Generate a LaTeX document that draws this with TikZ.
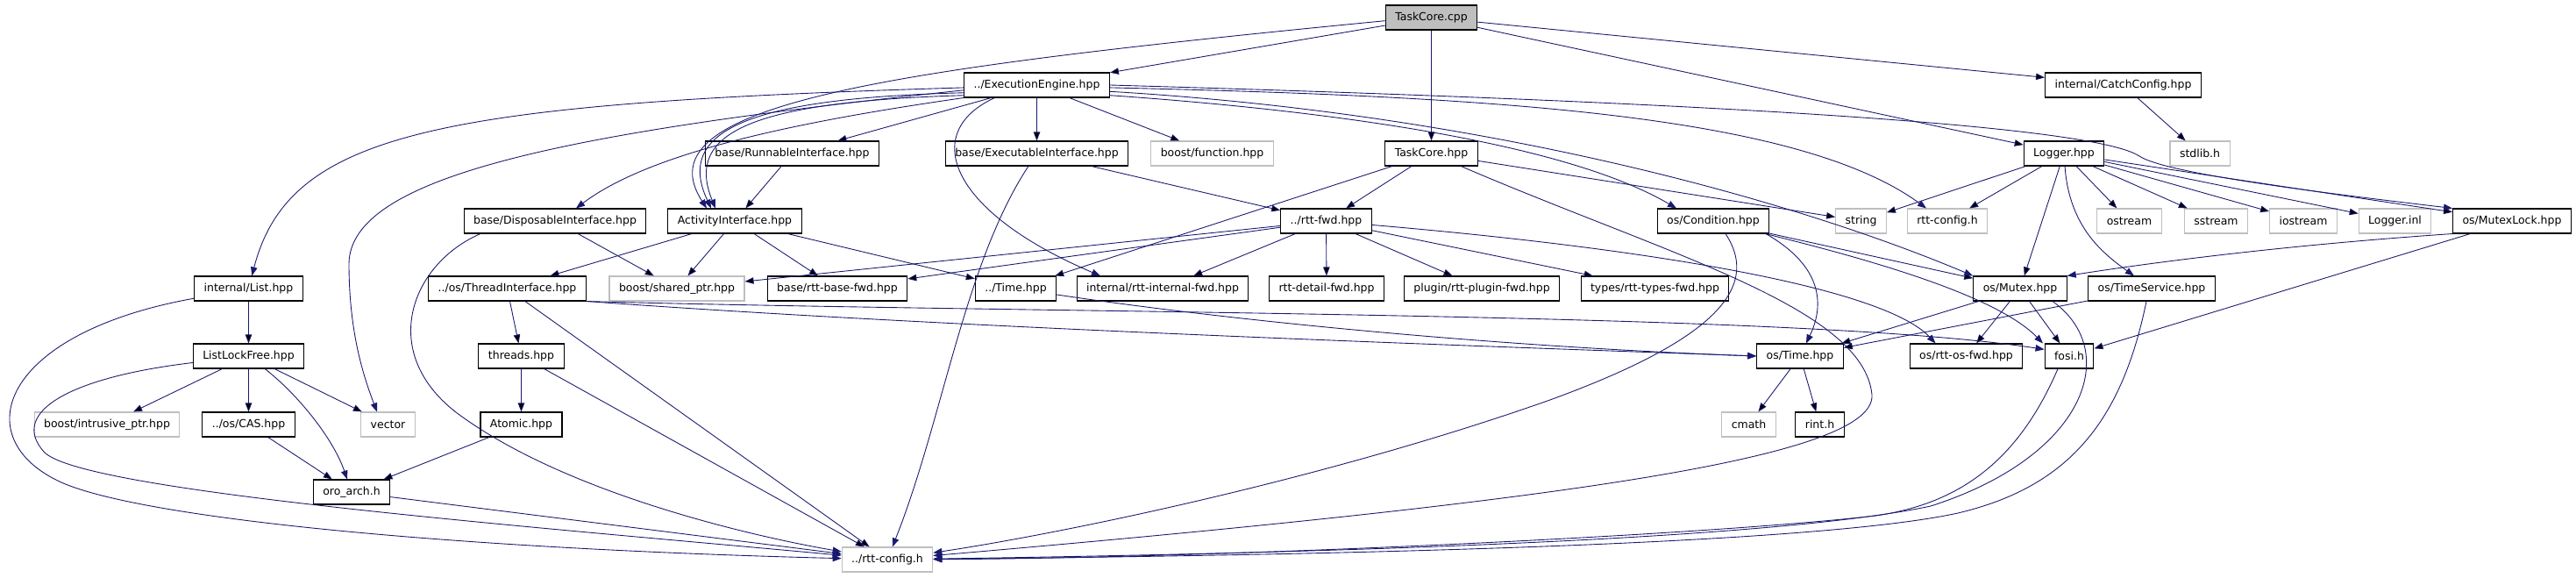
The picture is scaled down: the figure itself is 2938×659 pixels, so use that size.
\documentclass[tikz,border=0pt]{standalone}
\usepackage{fontspec}
\setmainfont{DejaVu Sans}
\usepackage{tikz}
\usetikzlibrary{arrows.meta}
\definecolor{edgeblue}{HTML}{191970}
\definecolor{extgray}{HTML}{BFBFBF}
\tikzset{>={Triangle[length=0.2cm,width=0.15cm]},
  file/.style={draw=black,fill=white,line width=0.6pt,inner xsep=0.22cm,minimum height=0.56cm,font=\fontsize{7.1}{8.5}\selectfont},
  extfile/.style={file,draw=extgray},
  rootfile/.style={file,fill=extgray},
  dep/.style={->,draw=edgeblue,line width=0.5pt}}
\begin{document}
\begin{tikzpicture}[x=0.02cm,y=-0.02cm]
    \useasboundingbox (0,0) rectangle (2938,659);
    % row 0 and 1
    \node[rootfile] (cpp) at (1632.5,20) {TaskCore.cpp};
    \node[file] (ee) at (1182.5,97) {../ExecutionEngine.hpp};
    \node[file] (catch) at (2421.5,97) {internal/CatchConfig.hpp};
    % row 2
    \node[file] (runnable) at (903.5,175) {base/RunnableInterface.hpp};
    \node[file] (exec) at (1182.5,175) {base/ExecutableInterface.hpp};
    \node[extfile] (func) at (1382.5,175) {boost/function.hpp};
    \node[file] (tchpp) at (1632.5,175) {TaskCore.hpp};
    \node[file] (logger) at (2354,175) {Logger.hpp};
    \node[extfile] (stdlib) at (2509,175) {stdlib.h};
    % row 3
    \node[file] (disp) at (633,252) {base/DisposableInterface.hpp};
    \node[file] (act) at (838,252) {ActivityInterface.hpp};
    \node[file] (rttfwd) at (1512.5,252) {../rtt-fwd.hpp};
    \node[file] (cond) at (1954,252) {os/Condition.hpp};
    \node[extfile] (string) at (2122.5,252) {string};
    \node[extfile] (rttcfg) at (2221,252) {rtt-config.h};
    \node[extfile] (ostream) at (2428.5,252) {ostream};
    \node[extfile] (sstream) at (2527.5,252) {sstream};
    \node[extfile] (iostream) at (2627,252) {iostream};
    \node[extfile] (inl) at (2731.5,252) {Logger.inl};
    \node[file] (mlock) at (2865,252) {os/MutexLock.hpp};
    % row 4
    \node[file] (list) at (283.5,329) {internal/List.hpp};
    \node[file] (thread) at (578.5,329) {../os/ThreadInterface.hpp};
    \node[extfile] (shptr) at (772,329) {boost/shared\_ptr.hpp};
    \node[file] (basefwd) at (955,329) {base/rtt-base-fwd.hpp};
    \node[file] (time) at (1158.5,329) {../Time.hpp};
    \node[file] (intfwd) at (1326,329) {internal/rtt-internal-fwd.hpp};
    \node[file] (detfwd) at (1513,329) {rtt-detail-fwd.hpp};
    \node[file] (plugfwd) at (1690,329) {plugin/rtt-plugin-fwd.hpp};
    \node[file] (typfwd) at (1887.5,329) {types/rtt-types-fwd.hpp};
    \node[file] (mutex) at (2304,329) {os/Mutex.hpp};
    \node[file] (tsvc) at (2454,329) {os/TimeService.hpp};
    % row 5
    \node[file] (llf) at (283.5,406) {ListLockFree.hpp};
    \node[file] (threads) at (594.5,406) {threads.hpp};
    \node[file] (ostime) at (2053,406) {os/Time.hpp};
    \node[file] (osfwd) at (2242.5,406) {os/rtt-os-fwd.hpp};
    \node[file] (fosi) at (2360,406) {fosi.h};
    % row 6 to 8
    \node[extfile] (intr) at (122,484) {boost/intrusive\_ptr.hpp};
    \node[file] (cas) at (283.5,484) {../os/CAS.hpp};
    \node[extfile] (vector) at (442.5,484) {vector};
    \node[file] (atomic) at (594.5,484) {Atomic.hpp};
    \node[extfile] (cmath) at (1994.5,484) {cmath};
    \node[file] (rint) at (2075.5,484) {rint.h};
    \node[file] (oro) at (401,561) {oro\_arch.h};
    \node[extfile] (cfg) at (1012,638) {../rtt-config.h};
    % straight includes
    \path[dep]
    (cpp) edge (ee)
    (cpp) edge (tchpp)
    (cpp) edge (catch)
    (cpp) edge (logger)
    (ee) edge (runnable)
    (ee) edge (exec)
    (ee) edge (func)
    (catch) edge (stdlib)
    (runnable) edge (act)
    (exec) edge (rttfwd)
    (tchpp) edge (rttfwd)
    (tchpp) edge (time)
    (tchpp) edge (string)
    (logger) edge (string)
    (logger) edge (rttcfg)
    (logger) edge (mutex)
    (logger) edge (ostream)
    (logger) edge (sstream)
    (logger) edge (iostream)
    (logger) edge (inl)
    (logger) edge (mlock)
    (disp) edge (shptr)
    (act) edge (thread)
    (act) edge (shptr)
    (act) edge (basefwd)
    (act) edge (time)
    (rttfwd) edge (shptr)
    (rttfwd) edge (basefwd)
    (rttfwd) edge (intfwd)
    (rttfwd) edge (detfwd)
    (rttfwd) edge (plugfwd)
    (rttfwd) edge (typfwd)
    (cond) edge (mutex)
    (mlock) edge (fosi)
    (list) edge (llf)
    (thread) edge (threads)
    (thread) edge (cfg)
    (mutex) edge (ostime)
    (mutex) edge (osfwd)
    (mutex) edge (fosi)
    (tsvc) edge (ostime)
    (llf) edge (intr)
    (llf) edge (cas)
    (llf) edge (vector)
    (threads) edge (atomic)
    (threads) edge (cfg)
    (ostime) edge (cmath)
    (ostime) edge (rint)
    (cas) edge (oro)
    (atomic) edge (oro)
    (oro) edge (cfg)
    ;
    % curved includes
    \draw[dep] (cpp.184) .. controls (1000,80) and (730,120) .. ([xshift=-0.64cm]act.north);
    \draw[dep] (ee.186) .. controls (850,112) and (770,150) .. ([xshift=-0.54cm]act.north);
    \draw[dep] (ee.188) .. controls (860,116) and (780,150) .. ([xshift=-0.44cm]act.north);
    \draw[dep] (ee.182) .. controls (500,118) and (330,150) .. (list);
    \draw[dep] (ee.184) .. controls (650,150) and (400,200) .. (398,300) .. controls (398,380) and (415,430) .. ([xshift=-0.25cm]vector.north);
    \draw[dep] (ee.south west) .. controls (900,140) and (740,175) .. ([xshift=0.48cm]disp.north);
    \draw[dep] ([xshift=-0.96cm]ee.south) .. controls (1050,150) and (1080,240) .. ([xshift=-1.42cm]intfwd.north);
    \draw[dep] (ee.352) .. controls (1500,125) and (1780,160) .. ([xshift=-0.84cm]cond.north);
    \draw[dep] (ee.355) .. controls (1700,130) and (2050,230) .. (mutex.north west);
    \draw[dep] (ee.358) .. controls (1700,110) and (2050,130) .. ([xshift=-0.48cm]rttcfg.north);
    \draw[dep] (ee.east) .. controls (2000,118) and (2390,145) .. (2440,178) .. controls (2470,198) and (2650,220) .. (mlock.north west);
    \draw[dep] (tchpp) .. controls (1900,290) and (2125,350) .. (2135,450) .. controls (2140,520) and (1800,570) .. (cfg);
    \draw[dep] (exec) .. controls (1100,300) and (1075,480) .. (cfg);
    \draw[dep] ([xshift=-1.7cm]disp.south) .. controls (470,300) and (430,400) .. (520,470) .. controls (640,560) and (850,610) .. (cfg);
    \draw[dep] (list) .. controls (0,380) and (-40,500) .. (70,550) .. controls (160,590) and (500,625) .. (cfg);
    \draw[dep] (llf) .. controls (340,450) and (380,500) .. (oro);
    \draw[dep] (llf) .. controls (80,430) and (10,470) .. (50,515) .. controls (90,560) and (600,600) .. (cfg);
    \draw[dep] (thread.south east) .. controls (1200,358) and (2050,355) .. (fosi.165);
    \draw[dep] (thread.south east) .. controls (1100,375) and (1700,395) .. (ostime.west);
    \draw[dep] (time) .. controls (1400,365) and (1700,395) .. (ostime.west);
    \draw[dep] (rttfwd) .. controls (1900,285) and (2150,330) .. ([xshift=-0.7cm]osfwd.north);
    \draw[dep] ([xshift=1.2cm]cond.south) .. controls (2090,310) and (2075,360) .. (ostime);
    \draw[dep] (cond) .. controls (2150,300) and (2280,340) .. ([xshift=-0.6cm]fosi.north);
    \draw[dep] ([xshift=0.28cm]cond.south) .. controls (2010,330) and (1950,390) .. (1765,457) .. controls (1500,550) and (1200,610) .. (cfg);
    \draw[dep] ([xshift=0.74cm]mutex.south) .. controls (2420,400) and (2380,520) .. (2202,577) .. controls (2000,620) and (1400,632) .. (cfg);
    \draw[dep] ([xshift=-0.12cm]tsvc.south) .. controls (2420,480) and (2360,555) .. (2233,585) .. controls (2050,625) and (1400,634) .. (cfg);
    \draw[dep] ([xshift=-0.26cm]fosi.south) .. controls (2300,530) and (2230,575) .. (2139,588) .. controls (1950,610) and (1400,636) .. (cfg);
    \draw[dep] (logger) .. controls (2360,260) and (2400,290) .. (tsvc);
    \draw[dep] (mlock.south west) .. controls (2600,280) and (2450,300) .. (mutex.north east);
\end{tikzpicture}
\end{document}
